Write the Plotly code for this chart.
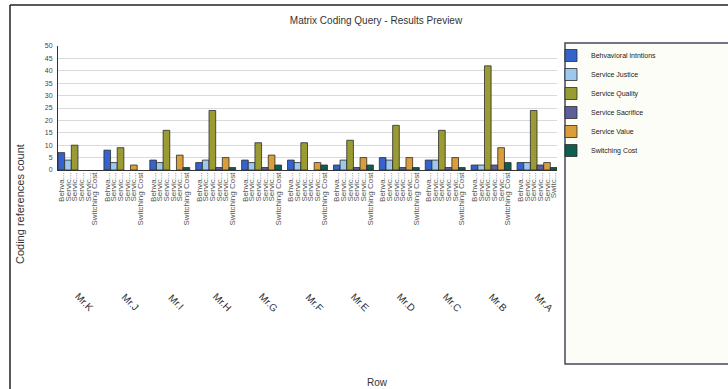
import plotly.graph_objects as go

# ---- data ----
groups = ["Mr.K", "Mr.J", "Mr.I", "Mr.H", "Mr.G", "Mr.F", "Mr.E", "Mr.D", "Mr.C", "Mr.B", "Mr.A"]
series_names = ["Behvavioral intntions", "Service Justice", "Service Quality",
                "Service Sacrifice", "Service Value", "Switching Cost"]
behavioral = [7, 8, 4, 3, 4, 4, 2, 5, 4, 2, 3]
justice = [4, 3, 3, 4, 3, 3, 4, 4, 4, 2, 3]
quality = [10, 9, 16, 24, 11, 11, 12, 18, 16, 42, 24]
sacrifice = [0, 0, 0, 1, 1, 0, 1, 1, 1, 2, 2]
value = [0, 2, 6, 5, 6, 3, 5, 5, 5, 9, 3]
switching = [0, 0, 1, 1, 2, 2, 2, 1, 1, 3, 1]
inner_labels = ["Behva...", "Servic...", "Servic...", "Servic...", "Servic...", "Switching Cost"]
last_inner_labels = ["Behva...", "Servic...", "Servic...", "Servic...", "Servic...", "Switc..."]
y_ticks = [0, 5, 10, 15, 20, 25, 30, 35, 40, 45, 50]

series_values = [behavioral, justice, quality, sacrifice, value, switching]
colors = ["#3563CB", "#9CC8EE", "#9A9B33", "#5E5E98", "#D99E3A", "#0F5E4E"]

# ---- layout geometry (pixels) ----
W, H = 728, 389
L, R, T, B = 58, 557, 46, 170
pw, ph = R - L, B - T


def px_x(x):
    return (x - L) / pw


def px_y(y):
    return (B - y) / ph


bargap = 0.13
nser = len(series_names)
bw = (1 - bargap) / nser

fig = go.Figure()
for name, vals, col in zip(series_names, series_values, colors):
    fig.add_trace(go.Bar(
        x=groups, y=[v if v else None for v in vals], name=name,
        marker=dict(color=col, line=dict(color="#2b2b2b", width=0.8)),
    ))

# inner (per-bar) tick positions on overlay axis
tickvals, ticktext = [], []
for gi, g in enumerate(groups):
    labs = last_inner_labels if gi == len(groups) - 1 else inner_labels
    for k in range(nser):
        tickvals.append(gi - (1 - bargap) / 2 + bw * (k + 0.5))
        ticktext.append(labs[k])

# invisible helper trace so the overlay axis carrying the bar labels is drawn
fig.add_trace(go.Scatter(x=tickvals, y=[0] * len(tickvals), xaxis="x2", yaxis="y",
                         mode="markers", marker=dict(opacity=0, size=1),
                         showlegend=False, hoverinfo="skip"))

xr = [-(1 - bargap) / 2, len(groups) - 1 + (1 - bargap) / 2]

font_family = "Liberation Sans, Arial, sans-serif"

fig.update_layout(
    width=W, height=H,
    margin=dict(l=L, r=W - R, t=T, b=H - B, pad=0),
    paper_bgcolor="white", plot_bgcolor="white",
    barmode="group", bargap=bargap, bargroupgap=0,
    font=dict(family=font_family, color="#333333"),
    title=dict(text="Matrix Coding Query - Results Preview",
               x=376 / W, xanchor="center", y=1 - 20 / H, yanchor="middle",
               font=dict(size=10, color="#333333")),
    xaxis=dict(type="category", range=xr, showticklabels=False, ticks="",
               showline=True, linecolor="#333333", linewidth=1,
               showgrid=False, zeroline=False),
    xaxis2=dict(overlaying="x", anchor="y", side="bottom", range=xr,
                tickmode="array", tickvals=tickvals, ticktext=ticktext,
                tickangle=-90, ticks="", showline=False, showgrid=False,
                zeroline=False, tickfont=dict(size=8, color="#555555")),
    yaxis=dict(range=[0, 50], tickmode="array", tickvals=y_ticks,
               ticks="", showline=True, linecolor="#333333", linewidth=1,
               showgrid=True, gridcolor="#DADADA", gridwidth=1,
               zeroline=False, tickfont=dict(size=7, color="#444444"),
               ticklabelstandoff=3),
    legend=dict(x=px_x(551), xanchor="left", y=px_y(41), yanchor="top",
                bgcolor="rgba(0,0,0,0)", borderwidth=0,
                font=dict(size=7, color="#222222"), traceorder="normal"),
    showlegend=True,
)

# legend frame box
fig.add_shape(type="rect", xref="paper", yref="paper",
              x0=px_x(565), x1=px_x(731), y0=px_y(364), y1=px_y(43),
              line=dict(color="#45455A", width=1.5), fillcolor="#FDFDF8",
              layer="below")
# outer frame (top and left edges)
fig.add_shape(type="line", xref="paper", yref="paper",
              x0=px_x(10), x1=px_x(730), y0=px_y(5), y1=px_y(5),
              line=dict(color="#222222", width=1.5))
fig.add_shape(type="line", xref="paper", yref="paper",
              x0=px_x(10), x1=px_x(10), y0=px_y(5), y1=px_y(392),
              line=dict(color="#222222", width=1.5))

# group labels
for g in groups:
    fig.add_annotation(x=g, xref="x", y=px_y(302), yref="paper",
                       xanchor="center", yanchor="middle",
                       text=g, showarrow=False, textangle=45, xshift=7,
                       font=dict(size=10, color="#333333"))

# axis titles
fig.add_annotation(x=px_x(20), y=px_y(204), xref="paper", yref="paper",
                   xanchor="center", yanchor="middle",
                   text="Coding references count", textangle=-90, showarrow=False,
                   font=dict(size=11, color="#333333"))
fig.add_annotation(x=px_x(377), y=px_y(382), xref="paper", yref="paper",
                   xanchor="center", yanchor="middle",
                   text="Row", showarrow=False,
                   font=dict(size=10, color="#333333"))

fig.write_html("out.html")
